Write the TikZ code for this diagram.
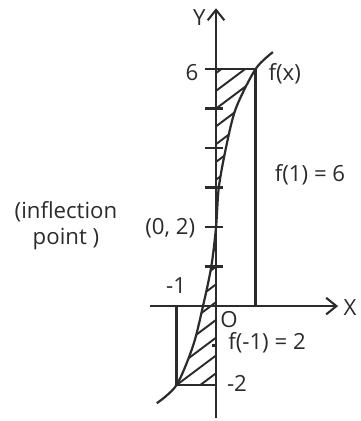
\documentclass[tikz,border=0pt]{standalone}
\usepackage{fontspec}
\setmainfont{Open Sans}
\usepackage{tikz}
\usetikzlibrary{arrows.meta}
\definecolor{inkgray}{HTML}{2B2B2B}

\begin{document}
\begin{tikzpicture}[
  x=1cm, y=1cm,
  font=\fontsize{16}{19}\selectfont,
  line width=1.6pt, draw=inkgray, text=inkgray,
  axis/.style={-{Straight Barb[length=2.6mm, width=4.2mm, line width=1.5pt]}},
  hatch/.style={line width=1.4pt},
  lbl/.style={inner sep=1pt},
]
\useasboundingbox (-5.47,-2.91) rectangle (3.67,7.75);

% hatched areas
\begin{scope}
  \clip (0,6) -- plot[smooth] coordinates {(1,6) (0.5,5) (0.25,4) (0.07,3) (0,2)} -- cycle;
  \foreach \k in {-1,-0.55,...,6.5}
    \draw[hatch] (-0.2,\k) -- ++(1.6,1.2);
\end{scope}
\begin{scope}
  \clip (0,-2) -- plot[smooth] coordinates {(-1,-2) (-0.58,-1) (-0.33,0) (-0.12,1) (0,2)} -- cycle;
  \foreach \k in {-3.5,-3.05,...,2.5}
    \draw[hatch] (-1.2,\k) -- ++(1.6,1.2);
\end{scope}

% axes
\coordinate (xs) at (-1.67,0);
\coordinate (xe) at (3.09,0);
\coordinate (ys) at (0,-2.84);
\coordinate (ye) at (0,7.54);
\draw[axis] (xs) -- (xe);
\draw[axis] (ys) -- (ye);

% ticks
\foreach \v in {1,...,5}
  \draw (-0.28,\v) -- (0.17,\v);
\draw (-0.1,-1) -- (0,-1);

% bounding lines
\coordinate (p6) at (-0.28,6);
\coordinate (q1) at (1,6);
\coordinate (q1x) at (1,0);
\coordinate (qm) at (-1,0);
\coordinate (qm2) at (-1,-2);
\coordinate (m2) at (0.03,-2);
\draw (p6) -- (q1) -- (q1x);
\draw (qm) -- (qm2) -- (m2);

% curve
\draw plot[smooth] coordinates {(-1.5,-2.46) (-1,-2) (-0.58,-1) (-0.33,0) (-0.12,1)
  (0,2) (0.07,3) (0.25,4) (0.5,5) (1,6) (1.44,6.43)};

% labels
\node[lbl] (ylab) at (-0.42,7.3) {Y};
\node[lbl] (xlab) at (3.39,-0.03) {X};
\node[lbl] (six) at (-0.61,5.92) {6};
\node[lbl] (fx) at (1.74,5.88) {f(x)};
\node[lbl] (f1) at (2.38,3.32) {f(1) = 6};
\node[lbl, align=center] (infl) at (-3.8,2.03) {(inflection\\point )};
\node[lbl] (pt) at (-1.16,1.97) {(0, 2)};
\node[lbl] (mone) at (-1.01,0.53) {-1};
\node[lbl] (orig) at (0.33,-0.35) {O};
\node[lbl] (fm1) at (1.29,-0.94) {f(-1) = 2};
\node[lbl] (mtwo) at (0.53,-1.95) {-2};
\end{tikzpicture}
\end{document}
